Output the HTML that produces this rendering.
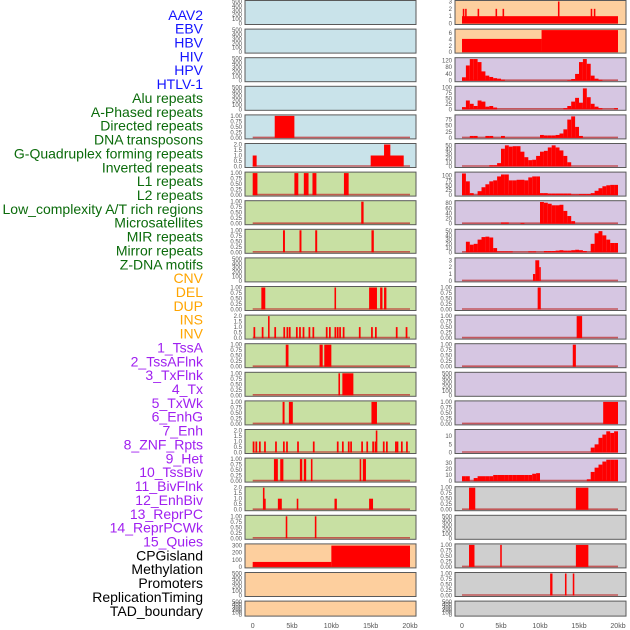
<!DOCTYPE html>
<html><head><meta charset="utf-8"><style>
html,body{margin:0;padding:0;background:#fff;}
svg{display:block;font-family:"Liberation Sans",sans-serif;}
</style></head><body>
<svg id="chart" width="630" height="630" viewBox="0 0 630 630" xmlns="http://www.w3.org/2000/svg"></svg>
<script>
// ---- labels ----
const featureLabels = ["AAV2","EBV","HBV","HIV","HPV","HTLV-1","Alu repeats","A-Phased repeats","Directed repeats","DNA transposons","G-Quadruplex forming repeats","Inverted repeats","L1 repeats","L2 repeats","Low_complexity A/T rich regions","Microsatellites","MIR repeats","Mirror repeats","Z-DNA motifs","CNV","DEL","DUP","INS","INV","1_TssA","2_TssAFlnk","3_TxFlnk","4_Tx","5_TxWk","6_EnhG","7_Enh","8_ZNF_Rpts","9_Het","10_TssBiv","11_BivFlnk","12_EnhBiv","13_ReprPC","14_ReprPCWk","15_Quies","CPGisland","Methylation","Promoters","ReplicationTiming","TAD_boundary"];
const labelGroups = [6,13,5,15,5];
const groupColors = ["#1414ff","#0b6b0b","#ffa500","#a020f0","#000000"];
const xTicks = [0,5,10,15,20];
const xTickLabels = ["0","5kb","10kb","15kb","20kb"];

// ---- left column data (segments [startKb,endKb,value]) ----
const L4 = [[2.8,5.3,1]];
const L5 = [[0,0.5,1],[15,19.2,1],[16.7,17.5,2]];
const L6 = [[0,0.6,1],[5.3,5.8,1],[6.5,7.1,1],[7.6,8.1,1],[11.6,12.2,1]];
const L7 = [[13.8,14.1,1]];
const L8 = [[3.85,4.1,1],[5.95,6.2,1],[7.95,8.2,1],[15.1,15.4,1]];
const L10 = [[1.1,1.6,1],[10.4,10.6,1],[14.8,15.8,1],[16.2,16.5,1],[16.7,17.0,1]];
const L11pos = [0.1,1.15,2.75,3.9,4.3,4.6,5.5,5.9,6.35,7.1,7.6,9.3,9.7,10.4,10.7,11.0,11.45,13.5,15.05,15.55,18.2,19.45];
const L11high = [[1.95,2.15,2]];
const L12 = [[4.2,4.55,1],[8.5,8.9,1],[9.1,10.0,1]];
const L13 = [[10.9,11.1,1],[11.4,12.8,1]];
const L14 = [[3.8,4.05,1],[4.6,5.1,1],[15.1,15.8,1]];
const L15pos = [0,0.35,0.8,1.45,2.85,3.85,4.25,5.65,7.65,10.7,11.35,12.1,12.4,13.8,14.45,15.2,15.5,16.55,16.95,18.1,18.3,18.85,19.5];
const L15high = [[15.65,15.85,2]];
const L16 = [[2.7,3.2,1],[3.5,3.9,1],[6.0,6.3,1],[6.5,6.8,1],[7.4,7.6,1],[13.6,13.8,1],[14.0,14.4,1]];
const L17 = [[1.3,1.5,2],[1.5,1.6,1],[3.2,3.7,1],[5.6,5.8,1],[10.4,10.7,1],[14.8,15.3,1]];
const L18 = [[4.2,4.4,1],[7.9,8.1,1]];
const L19 = [[0,10,70],[10,20,300]];

// ---- right column data ----
const R0 = [[0,20,1]];
const R0spikes2 = [0.1,0.4,2.0,4.3,5.2,16.5,16.9];
const R0spikes3 = [12.3];
const R1 = [[0,10.2,4.2],[10.2,20,7]];
// 0.5kb bins
const R2 = [20,90,128,128,110,55,30,22,15,12,6,0,0,0,0,0,0,0,0,0,0,0,0,0,0,0,0,3,10,40,110,128,100,30,12,5,0,0,0,0];
const R3 = [10,40,25,15,40,35,12,15,8,0,0,0,0,0,0,0,0,0,0,0,0,0,0,0,0,0,5,15,35,52,30,95,55,25,12,5,0,0,0,5];
const R4 = [0,0,8,8,0,0,8,8,0,0,8,0,0,0,0,0,0,0,0,0,12,10,10,10,12,18,35,75,88,45,8,0,0,0,0,0,0,0,0,0];
const R5 = [0,0,0,0,0,0,0,3,3,8,42,50,47,48,48,35,22,15,16,25,35,37,45,50,45,38,25,10,0,0,0,0,0,0,0,0,0,0,0,0];
const R6 = [110,70,10,0,20,40,55,70,75,95,105,105,75,75,78,78,75,90,95,95,10,10,8,8,8,8,8,8,3,3,5,5,5,10,22,35,45,50,52,52];
const R7 = [0,0,0,0,0,0,0,0,0,0,5,5,0,0,0,3,0,0,0,0,85,82,78,72,72,74,50,30,10,0,0,0,0,0,0,0,0,0,0,0];
const R8 = [0,25,18,20,30,36,37,35,10,2,2,2,2,0,0,0,0,2,2,0,0,3,3,3,4,5,4,4,5,6,5,3,0,20,45,50,40,30,22,22];
const R9 = [[9.1,9.4,1],[9.4,9.9,3],[9.9,10.1,2]];
const R10 = [[9.7,10.1,1]];
const R11 = [[14.7,15.4,1]];
const R12 = [[14.2,14.6,1]];
const R14 = [[18.1,20,1]];
const R15 = [0,0,0,0,0,0,0,0,0,0,0,0,0,0,0,0,0,0,0,0,0,0,0,0,0,0,0,0,0,0,0,0,0,3,5,9,11,13,12,13];
const R16 = [8,8,0,5,8,8,8,8,10,10,10,10,10,10,10,10,10,10,12,13,0,0,0,0,0,0,0,0,0,0,0,0,3,15,22,27,32,35,35,35];
const R17 = [[0.9,1.7,1],[14.6,16.2,1]];
const R19 = [[0.9,1.6,1],[4.9,5.1,1],[14.6,16.2,1]];
const R20 = [[11.3,11.6,1],[13.2,13.4,1],[14.2,14.4,1]];

// ---- tick sets ----
const T500 = [0,100,200,300,400,500], T500L = ["0","100","200","300","400","500"];
const T1 = [0,0.25,0.5,0.75,1], T1L = ["0.00","0.25","0.50","0.75","1.00"];
const T2 = [0,0.5,1,1.5,2], T2L = ["0.0","0.5","1.0","1.5","2.0"];

const NS="http://www.w3.org/2000/svg";
const svg=document.getElementById('chart');
function mk(tag,attrs,parent){const e=document.createElementNS(NS,tag);for(const k in attrs)e.setAttribute(k,attrs[k]);(parent||svg).appendChild(e);return e;}
function narrow(pos,w){return pos.map(p=>[p,p+w,1]);}
function binsToSegs(b){const s=[];b.forEach((v,i)=>{if(v>0)s.push([i*0.5,i*0.5+0.5,v]);});return s;}

const BG={b:"#c9e3ea",g:"#c8e0a3",o:"#fdcf9e",p:"#d6c6e2",y:"#cfcfcf"};
// [bg, segs|null, ymax, ticks, tickLabels]
const left=[
 ["b",null,500,T500,T500L],["b",null,500,T500,T500L],["b",null,500,T500,T500L],["b",null,500,T500,T500L],
 ["b",L4,1,T1,T1L],["b",L5,2,T2,T2L],["g",L6,1,T1,T1L],["g",L7,1,T1,T1L],["g",L8,1,T1,T1L],
 ["g",null,500,T500,T500L],["g",L10,1,T1,T1L],["g",narrow(L11pos,0.22).concat(L11high),2,T2,T2L],
 ["g",L12,1,T1,T1L],["g",L13,1,T1,T1L],["g",L14,1,T1,T1L],["g",narrow(L15pos,0.22).concat(L15high),2,T2,T2L],
 ["g",L16,1,T1,T1L],["g",L17,2,T2,T2L],["g",L18,1,T1,T1L],["o",L19,310,[0,100,200,300],["0","100","200","300"]],
 ["o",null,500,T500,T500L],["o",null,500,T500,T500L]];
const right=[
 ["o",R0.concat(narrow(R0spikes2,0.2).map(s=>[s[0],s[1],2])).concat(narrow(R0spikes3,0.2).map(s=>[s[0],s[1],3])),3,[0,1,2,3],["0","1","2","3"]],
 ["o",R1,7,[0,2,4,6],["0","2","4","6"]],
 ["p",binsToSegs(R2),130,[0,40,80,120],["0","40","80","120"]],
 ["p",binsToSegs(R3),100,[0,25,50,75,100],["0","25","50","75","100"]],
 ["p",binsToSegs(R4),90,[0,25,50,75],["0","25","50","75"]],
 ["p",binsToSegs(R5),52,[0,10,20,30,40,50],["0","10","20","30","40","50"]],
 ["p",binsToSegs(R6),112,[0,25,50,75,100],["0","25","50","75","100"]],
 ["p",binsToSegs(R7),86,[0,20,40,60,80],["0","20","40","60","80"]],
 ["p",binsToSegs(R8),52,[0,10,20,30,40,50],["0","10","20","30","40","50"]],
 ["p",R9,3.2,[0,1,2,3],["0","1","2","3"]],
 ["p",R10,1,T1,T1L],["p",R11,1,T1,T1L],["p",R12,1,T1,T1L],["p",null,500,T500,T500L],["p",R14,1,T1,T1L],
 ["p",binsToSegs(R15),13.5,[0,5,10],["0","5","10"]],
 ["p",binsToSegs(R16),36,[0,10,20,30],["0","10","20","30"]],
 ["y",R17,1,T1,T1L],["y",null,500,T500,T500L],["y",R19,1,T1,T1L],["y",R20,1,T1,T1L],["y",null,500,T500,T500L]];

function drawPanel(cfg,i,side){
  const px0 = side==="L"?245:455, pw=171;
  const x0 = side==="L"?252.7:462, x1 = side==="L"?410:618;
  const top = 0.5+i*28.6, h = i===21?15:24;
  const xs = kb => x0+(kb/20)*(x1-x0);
  const [bg,segs,ymax,ticks,tl]=cfg;
  const g=mk('g',{});
  
  
  const bottom=top+h;
  const ys = v => bottom-1-(v/ymax)*(h-2);
  const r=mk('rect',{x:px0,y:top,width:pw,height:h,fill:BG[bg],stroke:"#5a5a5a","stroke-width":1},g);
  
  
  ticks.forEach((t,k)=>{
    const tx=mk('text',{x:px0-3,y:ys(t)+2,"font-size":6,fill:"#555","text-anchor":"end"},g);
    tx.textContent=tl[k];
    
    
  });
  if(segs){
    const bl=mk('line',{x1:xs(0),x2:xs(20),y1:ys(0)-0.5,y2:ys(0)-0.5,stroke:"rgba(190,50,50,0.75)","stroke-width":1.6},g);
    
    
    segs.forEach(s=>{
      const a=xs(s[0]),b=xs(s[1]);
      const bar=mk('rect',{x:a,y:ys(s[2]),width:Math.max(b-a,1.2),height:ys(0)-ys(s[2]),fill:"#ff0000"},g);
      
      
    });
  }
}
left.forEach((c,i)=>drawPanel(c,i,"L"));
right.forEach((c,i)=>drawPanel(c,i,"R"));

// x axes
[[252.7,410],[462,618]].forEach((rg,j)=>{
  xTicks.forEach((t,k)=>{
    const tx=mk('text',{x:rg[0]+(t/20)*(rg[1]-rg[0]),y:628,"font-size":7,fill:"#555","text-anchor":"middle"});
    tx.textContent=xTickLabels[k];
    
    
  });
});

// feature labels
let idx=0;
labelGroups.forEach((n,gi)=>{
  for(let k=0;k<n;k++){
    const tx=mk('text',{x:203,y:19.8+idx*13.86,"font-size":14,fill:groupColors[gi],"text-anchor":"end"});
    tx.textContent=featureLabels[idx];
    
    
    idx++;
  }
});
</script>
</body></html>
